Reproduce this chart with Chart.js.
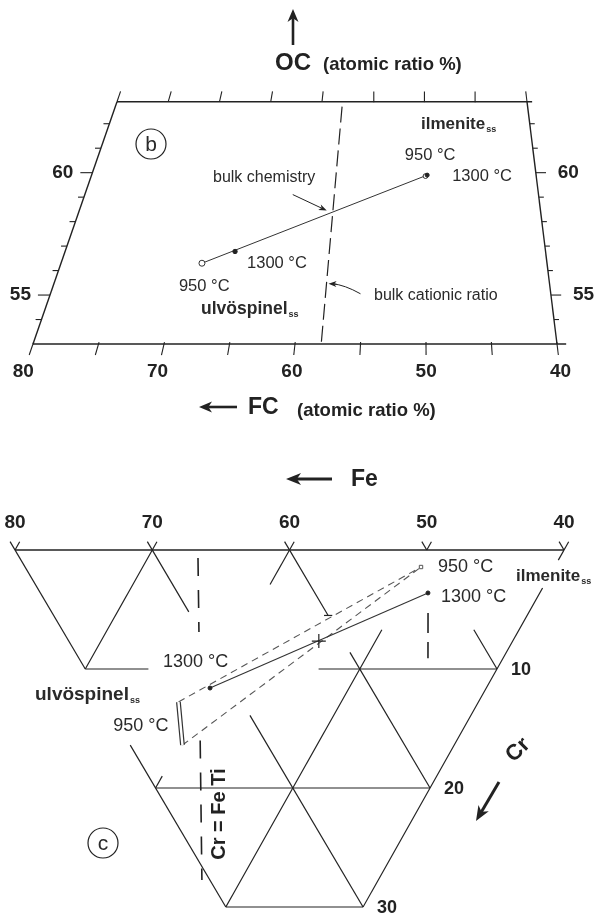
<!DOCTYPE html>
<html><head><meta charset="utf-8">
<script src="https://cdn.jsdelivr.net/npm/chart.js@4/dist/chart.umd.min.js"></script>
<style>html,body{margin:0;padding:0;background:#fff;overflow:hidden}canvas{display:block}</style>
</head><body>
<canvas id="b" width="598" height="440"></canvas>
<canvas id="c" width="598" height="479"></canvas>
<script>
// ================= Panel (b) data =================
const fcTicks  = [80, 75, 70, 65, 60, 55, 50, 45, 40];
const fcLabels = [80, 70, 60, 50, 40];
const ocTicks  = [54, 55, 56, 57, 58, 59, 60, 61, 62];
const ocLabels = [55, 60];
const ocRange  = [53, 62.9];
// tie line points: ulvöspinel 950, ulvöspinel 1300, ilmenite 950, ilmenite 1300
const tieNames = ['ulvöspinel 950 °C', 'ulvöspinel 1300 °C', 'ilmenite 950 °C', 'ilmenite 1300 °C'];
const tieFC = [68.4, 65.85, 49.95, 49.8];
const tieOC = [56.30, 56.78, 59.86, 59.90];
const bulkChem = [58.0, 58.37];          // FC, OC
const bulkRatioFC = [58.0, 58.0];
const bulkRatioOC = [62.7, 53.0];

// ================= Panel (c) data =================
const feTicks  = [80, 70, 60, 50, 40];
const crLabels = [10, 20, 30];
// lattice lines [value, crFrom, crTo]
const feLines = [[80,-0.7,0],[70,-0.7,10],[60,-0.7,2.9],[60,19,20],[50,-0.7,0],[50,6.7,30],[40,-0.7,0.85],[40,3.2,30]];
const tiLines = [[20,-0.7,10],[20,16.4,30],[30,-0.7,5.2],[30,13.9,30],[40,-0.7,5.5],[40,8.6,20],[50,-0.7,0],[50,6.7,10],[60,-0.7,0]];
// horizontal lines [cr, feFrom, feTo]
const crLines = [[0,80,40],[10,70,65.4],[10,53,40],[20,60,40],[30,50,40],[5.5,54.8,54.2]];
const ulv950Fe = [61.86, 59.8],  ulv950Cr = [12.77, 16.39];
const ulv1300  = [60.13, 11.6];   // Fe, Cr
const ilm950   = [49.72, 1.43];
const ilm1300  = [48.15, 3.61];
const bulkC    = [54.13, 7.65];
const ratioLineFe = [66.34, 63.23, 58.7, 52.85], ratioLineCr = [0.67, 6.9, 16, 27.73];
const ratio2Fe = [47.32, 45.47], ratio2Cr = [5.3, 9.1];

// ================= helpers =================
const FONT = '"Liberation Sans", Arial, Helvetica, sans-serif';
const INK = '#222', TXT = '#2a2a2a';
// panel b geometry: top axis is a shrunken copy of the bottom axis (perspective frame)
const TOP_SHRINK = 10.25 / 13.1, TOP_SHIFT = 84 / 13.1;
function pB(fc, oc) {
  const t = (ocRange[1] - oc) / (ocRange[1] - ocRange[0]);
  const xt = 80 - TOP_SHIFT - TOP_SHRINK * (80 - fc);
  return {x: xt * (1 - t) + fc * t, y: oc};
}
// panel c geometry: ternary skew
const SKEW = 0.488;
function pC(fe, cr) { return {x: fe + SKEW * cr, y: cr}; }

function lineDS(points, o = {}) {
  return Object.assign({data: points, showLine: true, borderColor: INK, borderWidth: 1.2,
    pointRadius: 0, pointHoverRadius: 0, fill: false, clip: false, tension: 0}, o);
}
function pointDS(p, o = {}) {
  return Object.assign({data: [p], showLine: false, pointRadius: 2.5, pointHoverRadius: 0,
    backgroundColor: INK, borderColor: INK, borderWidth: 1, clip: false}, o);
}
// Chart.js paints dataset 0 last; give every dataset an explicit order so push order = paint order
function ordered(list) { const n = list.length; list.forEach((d, i) => { d.order = n - i; }); return list; }
function txt(ctx, s, x, y, font, color, align) {
  ctx.font = font; ctx.fillStyle = color || TXT; ctx.textAlign = align || 'left';
  ctx.textBaseline = 'middle'; ctx.fillText(s, x, y);
}
function subTxt(ctx, s, ss, x, y, size, color) {
  txt(ctx, s, x, y, 'bold ' + size + 'px ' + FONT, color);
  const w = ctx.measureText(s).width;
  txt(ctx, ss, x + w + 1, y + 6, 'bold 9px ' + FONT, color);
}
function arrow(ctx, x0, y0, x1, y1, head, hw, lw) {
  const a = Math.atan2(y1 - y0, x1 - x0);
  ctx.save(); ctx.strokeStyle = INK; ctx.fillStyle = INK; ctx.lineWidth = lw;
  ctx.beginPath(); ctx.moveTo(x0, y0);
  ctx.lineTo(x1 - Math.cos(a) * head * 0.7, y1 - Math.sin(a) * head * 0.7); ctx.stroke();
  ctx.translate(x1, y1); ctx.rotate(a);
  ctx.beginPath(); ctx.moveTo(0, 0); ctx.lineTo(-head, -hw); ctx.lineTo(-head * 0.72, 0); ctx.lineTo(-head, hw);
  ctx.closePath(); ctx.fill(); ctx.restore();
}
function circled(ctx, ch, x, y) {
  ctx.save(); ctx.strokeStyle = INK; ctx.lineWidth = 1.2;
  ctx.beginPath(); ctx.arc(x, y, 15, 0, Math.PI * 2); ctx.stroke(); ctx.restore();
  txt(ctx, ch, x, y + 1, '21px ' + FONT, TXT, 'center');
}

// ================= Panel (b) datasets =================
const dsB = [];
dsB.push(lineDS([pB(80, ocRange[0]), pB(39.3, ocRange[0])], {borderWidth: 1.4}));
dsB.push(lineDS([pB(80, ocRange[1]), pB(39.5, ocRange[1])], {borderWidth: 1.4}));
dsB.push(lineDS([pB(80, ocRange[0]), pB(80, ocRange[1])], {borderWidth: 1.4}));
dsB.push(lineDS([pB(40, ocRange[0]), pB(40, ocRange[1])], {borderWidth: 1.4}));
fcTicks.forEach(v => {
  dsB.push(lineDS([pB(v, ocRange[1]), pB(v, ocRange[1] + 0.42)], {borderWidth: 1.1}));
  dsB.push(lineDS([pB(v, ocRange[0] + 0.08), pB(v, ocRange[0] - 0.45)], {borderWidth: 1.1}));
});
ocTicks.forEach(v => {
  const len = ocLabels.includes(v) ? 0.92 : 0.45;
  const l = pB(80, v), r = pB(40, v);
  dsB.push(lineDS([l, {x: l.x + len, y: v}], {borderWidth: 1.1}));
  dsB.push(lineDS([r, {x: r.x - len * 0.85, y: v}], {borderWidth: 1.1}));
});
dsB.push(lineDS([pB(bulkRatioFC[0], bulkRatioOC[0]), pB(bulkRatioFC[1], bulkRatioOC[1])],
  {borderDash: [16, 6], borderWidth: 1.2}));
dsB.push(lineDS([pB(tieFC[0], tieOC[0]), pB(tieFC[3], tieOC[3])], {borderWidth: 1, borderColor: '#333'}));
dsB.push(pointDS(pB(tieFC[0], tieOC[0]), {pointRadius: 3, backgroundColor: '#fff', borderColor: '#333'}));
dsB.push(pointDS(pB(tieFC[1], tieOC[1]), {pointRadius: 2.2}));
dsB.push(pointDS(pB(tieFC[2], tieOC[2]), {pointRadius: 2.4, backgroundColor: '#fff', borderColor: '#333'}));
dsB.push(pointDS(pB(tieFC[3], tieOC[3]), {pointRadius: 2}));
ordered(dsB);

const annotB = {id: 'annotB', afterDraw(chart) {
  const {ctx, scales: {x, y}} = chart;
  const P = (fc, oc) => { const p = pB(fc, oc); return [x.getPixelForValue(p.x), y.getPixelForValue(p.y)]; };
  ctx.save();
  fcLabels.forEach(v => { const [px, py] = P(v, ocRange[0] - 1.14); txt(ctx, String(v), px, py, 'bold 19px ' + FONT, INK, 'center'); });
  ocLabels.forEach(v => {
    const [lx, ly] = P(80, v); txt(ctx, String(v), lx - 19, ly, 'bold 19px ' + FONT, INK, 'right');
    const [rx, ry] = P(40, v); txt(ctx, String(v), rx + 22, ry, 'bold 19px ' + FONT, INK, 'left');
  });
  arrow(ctx, 293, 45, 293, 9, 13, 5.5, 2.6);
  txt(ctx, 'OC', 275, 63, 'bold 24px ' + FONT, INK);
  txt(ctx, '(atomic ratio %)', 323, 65, 'bold 18.5px ' + FONT, INK);
  arrow(ctx, 237, 407, 199, 407, 13, 5.5, 2.6);
  txt(ctx, 'FC', 248, 408, 'bold 23px ' + FONT, INK);
  txt(ctx, '(atomic ratio %)', 297, 411, 'bold 18.5px ' + FONT, INK);
  circled(ctx, 'b', 151, 144);
  const [ix, iy] = P(tieFC[3], tieOC[3]);
  txt(ctx, '950 °C', ix + 3, iy - 20, '16.5px ' + FONT, TXT, 'center');
  txt(ctx, '1300 °C', ix + 25, iy + 1, '16.5px ' + FONT);
  const [ax, ay] = P(tieFC[1], tieOC[1]);
  txt(ctx, '1300 °C', ax + 12, ay + 12, '16.5px ' + FONT);
  const [bx, by] = P(tieFC[0], tieOC[0]);
  txt(ctx, '950 °C', bx - 23, by + 23, '16.5px ' + FONT);
  subTxt(ctx, 'ulvöspinel', 'ss', 201, 309, 17.5);
  subTxt(ctx, 'ilmenite', 'ss', 421, 124, 17);
  const [cx, cy] = P(bulkChem[0], bulkChem[1]);
  txt(ctx, 'bulk chemistry', 213, 178, '16px ' + FONT);
  arrow(ctx, cx - 40, cy - 18, cx - 6, cy - 2, 8, 3, 1);
  txt(ctx, 'bulk cationic ratio', 374, 296, '16px ' + FONT);
  const [dx, dy] = P(bulkRatioFC[0], 55.46);
  ctx.strokeStyle = INK; ctx.lineWidth = 1;
  ctx.beginPath(); ctx.moveTo(dx + 34, dy + 10); ctx.quadraticCurveTo(dx + 18, dy + 1, dx + 6, dy); ctx.stroke();
  arrow(ctx, dx + 10, dy + 0.3, dx + 2, dy, 8, 3, 1);
  ctx.restore();
}};

new Chart(document.getElementById('b'), {
  type: 'scatter', data: {datasets: dsB},
  options: {responsive: false, animation: false, events: [],
    layout: {padding: {left: 33, right: 41, top: 101.7, bottom: 96}},
    plugins: {legend: {display: false}, tooltip: {enabled: false}},
    scales: {x: {type: 'linear', display: false, min: 40, max: 80, reverse: true},
             y: {type: 'linear', display: false, min: ocRange[0], max: ocRange[1]}}},
  plugins: [annotB]
});

// ================= Panel (c) datasets =================
const dsC = [];
feLines.forEach(([v, a, b]) => dsC.push(lineDS([pC(v, a), pC(v, b)])));
tiLines.forEach(([v, a, b]) => dsC.push(lineDS([pC(100 - v - a, a), pC(100 - v - b, b)])));
crLines.forEach(([c, a, b]) => dsC.push(lineDS([pC(a, c), pC(b, c)], {borderWidth: c === 0 ? 1.5 : 1.2})));
dsC.push(lineDS([pC(ratioLineFe[0], ratioLineCr[0]), pC(ratioLineFe[1], ratioLineCr[1])], {borderDash: [18, 14], borderWidth: 1.6}));
dsC.push(lineDS([pC(ratioLineFe[2], ratioLineCr[2]), pC(ratioLineFe[3], ratioLineCr[3])], {borderDash: [18, 14], borderWidth: 1.6}));
dsC.push(lineDS([pC(ratio2Fe[0], ratio2Cr[0]), pC(ratio2Fe[1], ratio2Cr[1])], {borderDash: [20, 9], borderWidth: 1.6}));
dsC.push(lineDS([pC(ulv950Fe[0], ulv950Cr[0]), pC(ilm950[0], ilm950[1])], {borderDash: [7, 5], borderWidth: 1.1, borderColor: '#555'}));
dsC.push(lineDS([pC(ulv950Fe[1], ulv950Cr[1]), pC(ilm950[0], ilm950[1])], {borderDash: [7, 5], borderWidth: 1.1, borderColor: '#555'}));
dsC.push(lineDS([pC(ulv1300[0], ulv1300[1]), pC(ilm1300[0], ilm1300[1])], {borderWidth: 1.1, borderColor: '#333'}));
dsC.push(lineDS([pC(ulv950Fe[0], ulv950Cr[0]), pC(ulv950Fe[1], ulv950Cr[1])], {borderWidth: 4.8, borderColor: '#333'}));
dsC.push(lineDS([pC(ulv950Fe[0], ulv950Cr[0]), pC(ulv950Fe[1], ulv950Cr[1])], {borderWidth: 2.4, borderColor: '#fff'}));
dsC.push(pointDS(pC(ulv1300[0], ulv1300[1]), {pointRadius: 2}));
dsC.push(pointDS(pC(ilm1300[0], ilm1300[1]), {pointRadius: 2}));
dsC.push(pointDS(pC(ilm950[0], ilm950[1]), {pointStyle: 'rect', pointRadius: 2.4, backgroundColor: '#fff', borderColor: '#555'}));
dsC.push(pointDS(pC(bulkC[0], bulkC[1]), {pointStyle: 'cross', pointRadius: 7, borderWidth: 1.2, borderColor: '#222'}));
ordered(dsC);

const annotC = {id: 'annotC', afterDraw(chart) {
  const {ctx, scales: {x, y}} = chart;
  const P = (fe, cr) => { const p = pC(fe, cr); return [x.getPixelForValue(p.x), y.getPixelForValue(p.y)]; };
  ctx.save();
  arrow(ctx, 332, 39, 286, 39, 15, 6, 3);
  txt(ctx, 'Fe', 351, 40, 'bold 23px ' + FONT, INK);
  feTicks.forEach(v => { const [px, py] = P(v, 0); txt(ctx, String(v), px, py - 27, 'bold 19px ' + FONT, INK, 'center'); });
  crLabels.forEach(c => { const [px, py] = P(40, c); txt(ctx, String(c), px + 14, py + 1, 'bold 18px ' + FONT, INK); });
  subTxt(ctx, 'ilmenite', 'ss', 516, 136, 17);
  const [i9x, i9y] = P(ilm950[0], ilm950[1]);
  txt(ctx, '950 °C', i9x + 17, i9y, '18px ' + FONT);
  const [i1x, i1y] = P(ilm1300[0], ilm1300[1]);
  txt(ctx, '1300 °C', i1x + 13, i1y + 4, '18px ' + FONT);
  const [u1x, u1y] = P(ulv1300[0], ulv1300[1]);
  txt(ctx, '1300 °C', u1x - 47, u1y - 26, '18px ' + FONT);
  subTxt(ctx, 'ulvöspinel', 'ss', 35, 255, 19);
  const [m0x, m0y] = P(ulv950Fe[0], ulv950Cr[0]); const [m1x, m1y] = P(ulv950Fe[1], ulv950Cr[1]);
  txt(ctx, '950 °C', (m0x + m1x) / 2 - 12, (m0y + m1y) / 2 + 3, '18px ' + FONT, TXT, 'right');
  circled(ctx, 'c', 103, 403);
  ctx.save(); ctx.translate(219, 374); ctx.rotate(-Math.PI / 2);
  txt(ctx, 'Cr = Fe Ti', 0, 0, 'bold 20px ' + FONT, INK, 'center'); ctx.restore();
  ctx.save(); ctx.translate(518, 310); ctx.rotate(-Math.PI / 4);
  txt(ctx, 'Cr', 0, 0, 'bold 22px ' + FONT, INK, 'center'); ctx.restore();
  arrow(ctx, 499, 342, 476, 381, 15, 6, 3);
  ctx.restore();
}};

new Chart(document.getElementById('c'), {
  type: 'scatter', data: {datasets: dsC},
  options: {responsive: false, animation: false, events: [],
    layout: {padding: {left: 15, right: 34, top: 110, bottom: 12}},
    plugins: {legend: {display: false}, tooltip: {enabled: false}},
    scales: {x: {type: 'linear', display: false, min: 40, max: 80, reverse: true},
             y: {type: 'linear', display: false, min: 0, max: 30, reverse: true}}},
  plugins: [annotC]
});
</script>
</body></html>
